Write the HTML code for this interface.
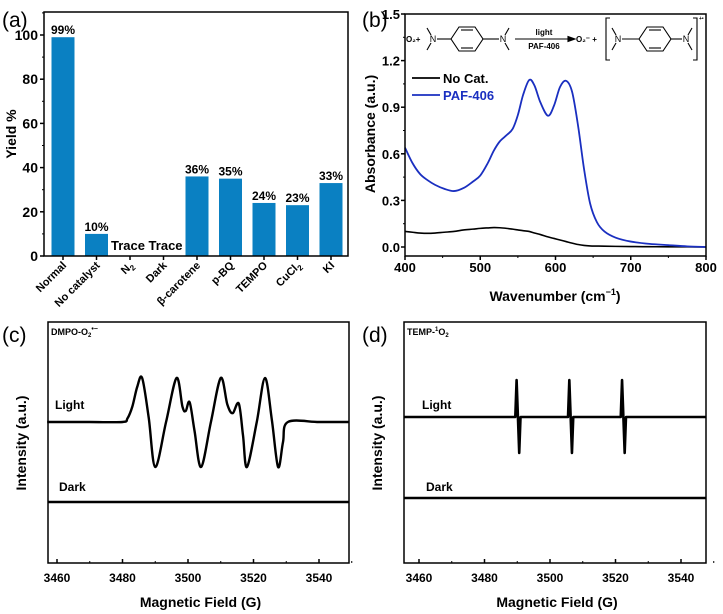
<!DOCTYPE html>
<html><head><meta charset="utf-8"><style>
body{margin:0;background:#fff;}
svg{display:block;font-family:"Liberation Sans",Arial,sans-serif;font-weight:bold;}
</style></head><body>
<svg id="fig" width="723" height="614" viewBox="0 0 723 614" xmlns="http://www.w3.org/2000/svg">
<g id="pa"></g>
<g id="pb"></g>
<g id="pc"></g>
<g id="pd"></g>
</svg>
<script>
// ---------- data ----------
const catsA = ["Normal","No catalyst","N2","Dark","β-carotene","p-BQ","TEMPO","CuCl2","KI"];
const yieldA = [99,10,0,0,36,35,24,23,33];
const labelsA = ["99%","10%","","","36%","35%","24%","23%","33%"];
const yTicksA = [0,20,40,60,80,100];

const wlB = [400,410,420,430,440,452,465,478,490,500,510,518,526,535,543,550,557,565,572,580,590,598,606,614,622,630,638,646,655,665,680,700,725,750,775,800];
const pafB = [0.64,0.54,0.47,0.43,0.40,0.375,0.36,0.38,0.42,0.46,0.54,0.62,0.68,0.72,0.76,0.85,0.98,1.075,1.04,0.93,0.845,0.91,1.03,1.07,1.0,0.78,0.5,0.28,0.16,0.10,0.06,0.035,0.02,0.012,0.004,0.0];
const noCatB = [0.10,0.095,0.09,0.088,0.09,0.095,0.10,0.11,0.115,0.12,0.123,0.125,0.124,0.12,0.115,0.11,0.105,0.10,0.09,0.08,0.065,0.055,0.045,0.035,0.025,0.016,0.01,0.007,0.006,0.005,0.004,0.003,0.002,0.001,0.001,0.0];
const xTicksB = [400,500,600,700,800];
const yTicksB = [0,0.3,0.6,0.9,1.2,1.5];

const fieldC = [3457,3470,3480,3481.5,3483,3484.5,3486,3488,3490,3493.3,3496.5,3498.3,3499.3,3500.5,3502,3504,3507,3510,3512,3513.6,3515.5,3516.8,3518,3521,3523.5,3525.6,3527.5,3529,3530.5,3540,3549];
const lightC = [0,0,0,0.08,0.35,0.8,1,0.1,-1,0,1,0.35,0.25,0.45,-0.2,-1,0,1,0.4,0.2,0.42,-0.3,-1,0,1,0.05,-1,-0.45,0,0,0];
const fieldD = [3455.5,3489.4,3489.8,3490.6,3491,3505.5,3505.9,3506.7,3507.1,3521.6,3522,3522.8,3523.2,3547.5];
const lightD = [0,0,1,-1,0,0,1,-1,0,0,1,-1,0,0];
const xTicksCD = [3460,3480,3500,3520,3540];

// ---------- helpers ----------
const NS="http://www.w3.org/2000/svg";
function mk(parent,tag,attrs,text){const e=document.createElementNS(NS,tag);for(const k in attrs)e.setAttribute(k,attrs[k]);if(text!==undefined)e.textContent=text;parent.appendChild(e);return e;}
function lin(d0,d1,r0,r1){return v=>r0+(v-d0)*(r1-r0)/(d1-d0);}
function smoothPath(pts){let d="M"+pts[0][0]+","+pts[0][1];for(let i=0;i<pts.length-1;i++){const p0=pts[i-1]||pts[i],p1=pts[i],p2=pts[i+1],p3=pts[i+2]||p2;const c1x=p1[0]+(p2[0]-p0[0])/6,c1y=p1[1]+(p2[1]-p0[1])/6,c2x=p2[0]-(p3[0]-p1[0])/6,c2y=p2[1]-(p3[1]-p1[1])/6;d+=" C"+c1x+","+c1y+" "+c2x+","+c2y+" "+p2[0]+","+p2[1];}return d;}

// ---------- panel a ----------
const pa=document.getElementById('pa');
const xA0=44,xA1=348,yTopA=12,yBotA=256;
const yA=lin(0,100,256,35);
const xA=i=>63+i*33.5;
let t=mk(pa,'text',{x:2,y:27,'font-size':21,'font-weight':'normal'},'(a)');

yieldA.forEach((v,i)=>{
  const r=mk(pa,'rect',{x:xA(i)-11.5,y:yA(v),width:23,height:yA(0)-yA(v),fill:'#0a80c2'});
  
  
  if(labelsA[i]){const l=mk(pa,'text',{x:xA(i),y:yA(v)-3,'font-size':12,'text-anchor':'middle'},labelsA[i]);
  }
});
t=mk(pa,'text',{x:xA(2.5),y:250,'font-size':13,'text-anchor':'middle'},'Trace Trace');

t=mk(pa,'rect',{x:xA0,y:yTopA,width:xA1-xA0,height:yBotA-yTopA,fill:'none',stroke:'#000','stroke-width':1.5});

yTicksA.forEach(v=>{
  mk(pa,'line',{x1:xA0-4,x2:xA0,y1:yA(v),y2:yA(v),stroke:'#000','stroke-width':1.5});
  mk(pa,'line',{x1:xA0-2,x2:xA0,y1:yA(v+10),y2:yA(v+10),stroke:'#000','stroke-width':1});
  const l=mk(pa,'text',{x:xA0-6,y:yA(v)+5,'font-size':14,'text-anchor':'end'},String(v));
  
});
catsA.forEach((c,i)=>{
  mk(pa,'line',{x1:xA(i),x2:xA(i),y1:yBotA,y2:yBotA+4,stroke:'#000','stroke-width':1.5});
  const g=mk(pa,'text',{transform:`translate(${xA(i)+4},${yBotA+10}) rotate(-45)`,'font-size':11,'text-anchor':'end'});
  
  const m=c.match(/^(.*?)(\d)$/);
  if(m && (c==="N2"||c==="CuCl2")){g.textContent=m[1];mk(g,'tspan',{'font-size':8,dy:3},m[2]);}
  else g.textContent=c;
});
t=mk(pa,'text',{transform:'translate(16,134) rotate(-90)','font-size':14,'text-anchor':'middle'},'Yield %');


// ---------- panel b ----------
const pb=document.getElementById('pb');
const xB0=405,xB1=706,yTopB=14,yBotB=256;
const xB=lin(400,800,405,706), yB=lin(0,1.5,247,14);
t=mk(pb,'text',{x:362,y:27,'font-size':21,'font-weight':'normal'},'(b)');

t=mk(pb,'path',{d:smoothPath(wlB.map((w,i)=>[xB(w),yB(noCatB[i])])),fill:'none',stroke:'#000','stroke-width':1.6});

t=mk(pb,'path',{d:smoothPath(wlB.map((w,i)=>[xB(w),yB(pafB[i])])),fill:'none',stroke:'#1a2fc0','stroke-width':1.8});

t=mk(pb,'rect',{x:xB0,y:yTopB,width:xB1-xB0,height:yBotB-yTopB,fill:'none',stroke:'#000','stroke-width':1.5});

yTicksB.forEach(v=>{
  mk(pb,'line',{x1:xB0-4,x2:xB0,y1:yB(v),y2:yB(v),stroke:'#000','stroke-width':1.5});
  if(v<1.5)mk(pb,'line',{x1:xB0-2,x2:xB0,y1:yB(v+0.15),y2:yB(v+0.15),stroke:'#000','stroke-width':1});
  const l=mk(pb,'text',{x:xB0-5,y:yB(v)+5,'font-size':13,'text-anchor':'end'},v.toFixed(1));
  
});
xTicksB.forEach(v=>{
  mk(pb,'line',{x1:xB(v),x2:xB(v),y1:yBotB,y2:yBotB+4,stroke:'#000','stroke-width':1.5});
  if(v<800)mk(pb,'line',{x1:xB(v+50),x2:xB(v+50),y1:yBotB,y2:yBotB+2,stroke:'#000','stroke-width':1});
  const l=mk(pb,'text',{x:xB(v),y:yBotB+16,'font-size':13,'text-anchor':'middle'},String(v));
  
});
t=mk(pb,'text',{x:555,y:301,'font-size':14,'text-anchor':'middle'},'Wavenumber (cm');
mk(t,'tspan',{'font-size':9,dy:-6},'−1');mk(t,'tspan',{dy:6},')');

t=mk(pb,'text',{transform:'translate(375,134) rotate(-90)','font-size':14,'text-anchor':'middle'},'Absorbance (a.u.)');

let lg=mk(pb,'g',{});
mk(lg,'line',{x1:412,x2:440,y1:78,y2:78,stroke:'#000','stroke-width':1.8});
t=mk(lg,'text',{x:443,y:83,'font-size':13},'No Cat.');
mk(lg,'line',{x1:412,x2:440,y1:95,y2:95,stroke:'#1a2fc0','stroke-width':1.8});
t=mk(lg,'text',{x:443,y:100,'font-size':13,fill:'#1a2fc0'},'PAF-406');
let sc=mk(pb,'g',{stroke:'#000','stroke-width':1.1,fill:'none'});
function mol(nx1,cx,nx2,cy){
  mk(sc,'line',{x1:nx1-6,y1:cy-11,x2:nx1-2,y2:cy-4});mk(sc,'line',{x1:nx1-6,y1:cy+11,x2:nx1-2,y2:cy+4});
  mk(sc,'line',{x1:nx1+4,y1:cy,x2:cx-16,y2:cy});
  const h=16,v=12;
  mk(sc,'polygon',{points:`${cx-h},${cy} ${cx-h/2},${cy-v} ${cx+h/2},${cy-v} ${cx+h},${cy} ${cx+h/2},${cy+v} ${cx-h/2},${cy+v}`});
  mk(sc,'line',{x1:cx-h/2+2,y1:cy-v+3,x2:cx+h/2-2,y2:cy-v+3});mk(sc,'line',{x1:cx-h/2+2,y1:cy+v-3,x2:cx+h/2-2,y2:cy+v-3});
  mk(sc,'line',{x1:cx+16,y1:cy,x2:nx2-4,y2:cy});
  mk(sc,'line',{x1:nx2+2,y1:cy-4,x2:nx2+6,y2:cy-11});mk(sc,'line',{x1:nx2+2,y1:cy+4,x2:nx2+6,y2:cy+11});
  mk(sc,'text',{x:nx1,y:cy+3,'font-size':9,'text-anchor':'middle',fill:'#000',stroke:'none','font-weight':'normal'},'N');
  mk(sc,'text',{x:nx2,y:cy+3,'font-size':9,'text-anchor':'middle',fill:'#000',stroke:'none','font-weight':'normal'},'N');
}
mk(sc,'text',{x:406,y:42,'font-size':8,fill:'#000',stroke:'none'},'O₂+');
mol(433,467,503,39);
mk(sc,'line',{x1:515,y1:39,x2:570,y2:39});mk(sc,'polygon',{points:'568,36.5 575,39 568,41.5',fill:'#000'});
mk(sc,'text',{x:544,y:35,'font-size':8,'text-anchor':'middle',fill:'#000',stroke:'none'},'light');
mk(sc,'text',{x:544,y:49,'font-size':8,'text-anchor':'middle',fill:'#000',stroke:'none'},'PAF-406');
mk(sc,'text',{x:576,y:42,'font-size':8,fill:'#000',stroke:'none'},'O₂⁻ +');
mk(sc,'path',{d:'M610,18 L606,18 L606,60 L610,60'});mk(sc,'path',{d:'M693,18 L697,18 L697,60 L693,60'});
mol(618,655,686,39);
mk(sc,'text',{x:699,y:20,'font-size':5,fill:'#000',stroke:'none'},'+•');

// ---------- panels c & d ----------
function epr(g,opt){
  const x=lin(3460,3540,opt.t0,opt.t1);
  let t=mk(g,'text',{x:opt.lx,y:342,'font-size':21,'font-weight':'normal'},opt.label);
  
  const lp=opt.field.map((f,i)=>[x(f),opt.base-opt.light[i]*(opt.light[i]>0?opt.up:opt.dn)]);
  t=mk(g,'path',{d:opt.smooth?smoothPath(lp):'M'+lp.map(p=>p.join(',')).join(' L'),fill:'none',stroke:'#000','stroke-width':opt.sw,'stroke-linejoin':'round'});
  
  t=mk(g,'line',{x1:opt.x0,x2:opt.x1,y1:opt.dark,y2:opt.dark,stroke:'#000','stroke-width':opt.sw});
  
  t=mk(g,'rect',{x:opt.x0,y:322,width:opt.x1-opt.x0,height:563-322,fill:'none',stroke:'#000','stroke-width':1.5});
  
  xTicksCD.forEach(v=>{
    mk(g,'line',{x1:x(v),x2:x(v),y1:563,y2:559,stroke:'#000','stroke-width':1.5});
    mk(g,'line',{x1:x(v+10),x2:x(v+10),y1:563,y2:561,stroke:'#000','stroke-width':1});
    const l=mk(g,'text',{x:x(v),y:582,'font-size':12,'text-anchor':'middle'},String(v));
    
  });
  t=mk(g,'text',{x:(opt.x0+opt.x1)/2+2,y:607,'font-size':14,'text-anchor':'middle'},'Magnetic Field (G)');
  
  t=mk(g,'text',{transform:`translate(${opt.x0-22},443) rotate(-90)`,'font-size':14,'text-anchor':'middle'},'Intensity (a.u.)');
  
  t=mk(g,'text',{x:opt.tx,y:409,'font-size':12},'Light');
  t=mk(g,'text',{x:opt.tx+4,y:491,'font-size':12},'Dark');
  t=mk(g,'text',{x:opt.x0+3,y:335,'font-size':9});t.innerHTML=opt.title;
  
}
epr(document.getElementById('pc'),{t0:57,t1:319,x0:48,x1:349,lx:2,label:'(c)',field:fieldC,light:lightC,base:422,up:44,dn:45,dark:502,sw:2.4,tx:55,smooth:true,title:'DMPO-O<tspan font-size="6" dy="2">2</tspan><tspan font-size="7" dy="-6">•−</tspan>'});
epr(document.getElementById('pd'),{t0:419,t1:681,x0:404,x1:706,lx:362,label:'(d)',field:fieldD,light:lightD,base:417,up:37,dn:36,dark:498,sw:2.6,tx:422,smooth:false,title:'TEMP-<tspan font-size="6" dy="-4">1</tspan><tspan dy="4">O</tspan><tspan font-size="6" dy="2">2</tspan>'});
</script>
</body></html>
